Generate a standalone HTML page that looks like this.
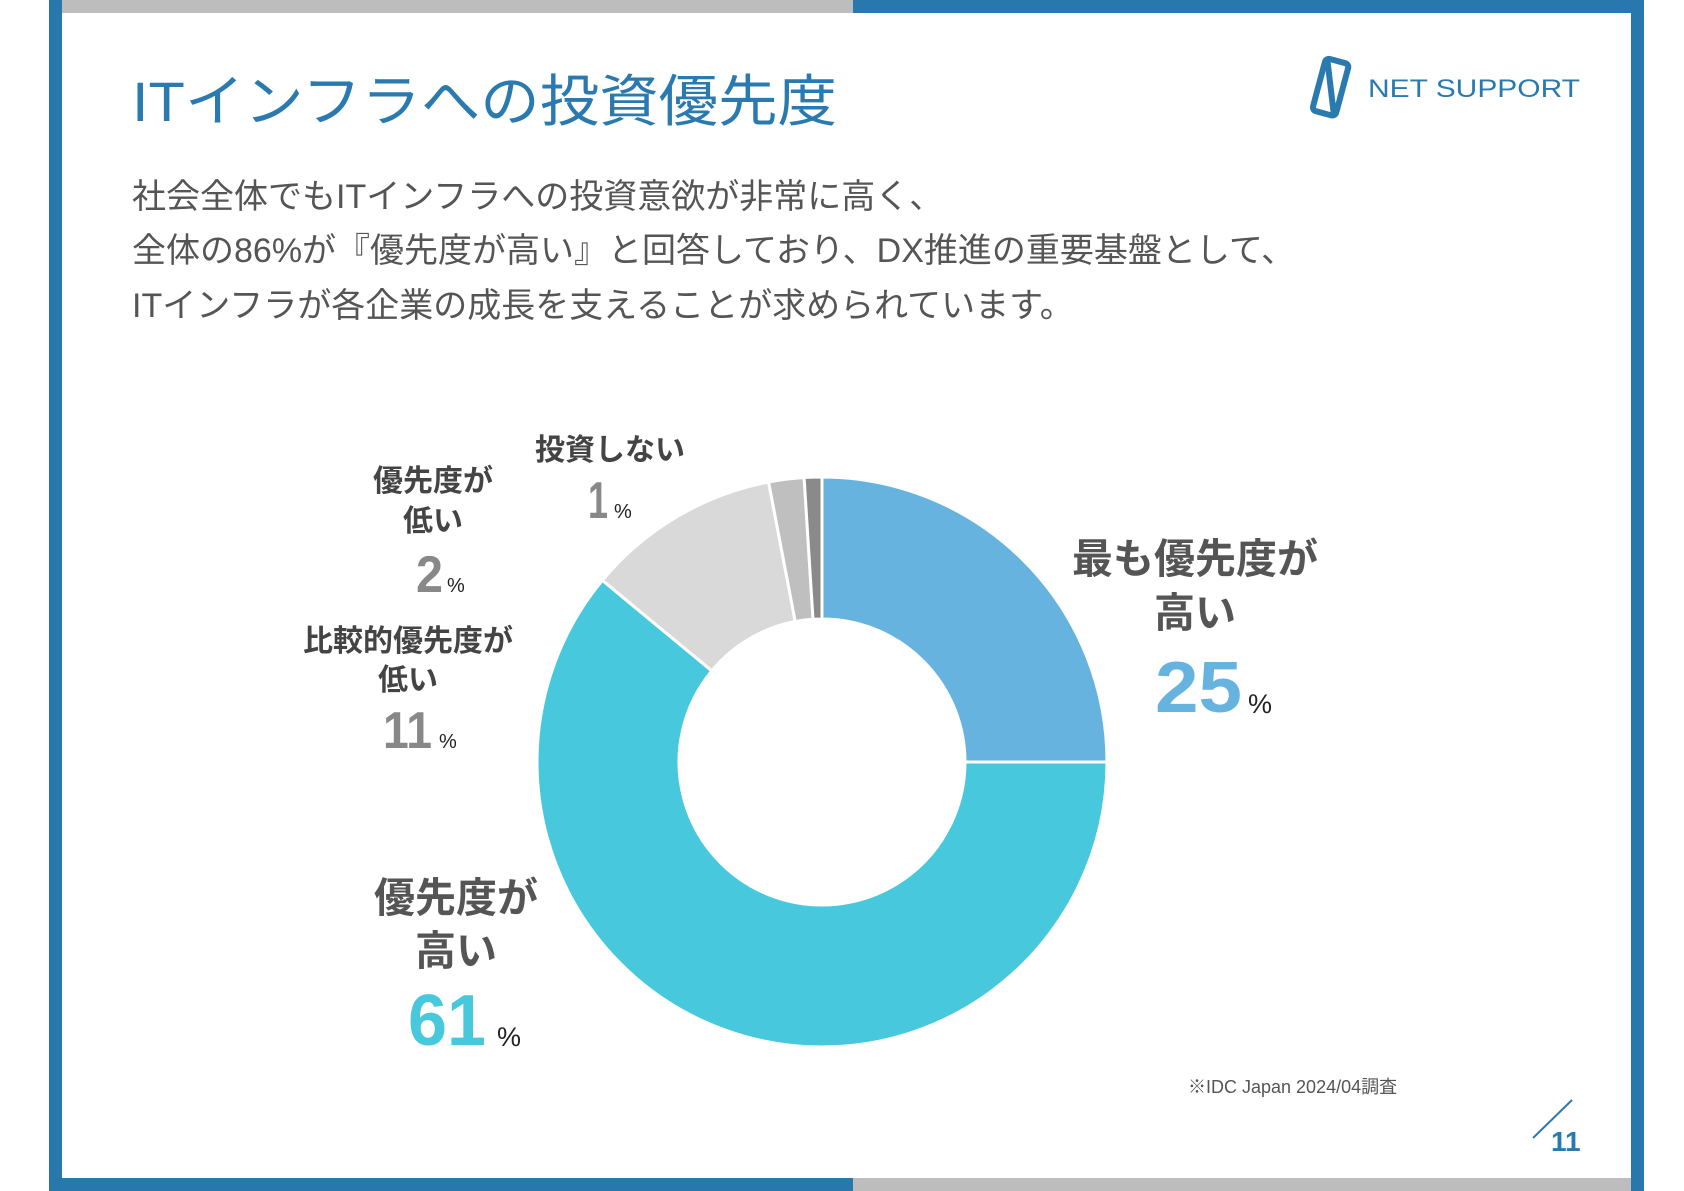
<!DOCTYPE html>
<html><head><meta charset="utf-8"><style>
html,body{margin:0;padding:0;background:#fff;}
svg{display:block;font-family:"Liberation Sans","Noto Sans CJK JP",sans-serif;}
</style></head><body>
<svg width="1684" height="1191" viewBox="0 0 1684 1191">
<rect x="49" y="0" width="13" height="1191" fill="#2878ae"/>
<rect x="1631" y="0" width="13" height="1191" fill="#2878ae"/>
<rect x="62" y="0" width="791" height="13" fill="#bdbdbd"/>
<rect x="853" y="0" width="778" height="13" fill="#2878ae"/>
<rect x="62" y="1178" width="791" height="13" fill="#2878ae"/>
<rect x="853" y="1178" width="778" height="13" fill="#bdbdbd"/>

<text x="132" y="121" font-size="56" fill="#2a7ab0" textLength="705" lengthAdjust="spacingAndGlyphs">ITインフラへの投資優先度</text>

<g>
<g transform="translate(1326,58) rotate(15)" fill="none" stroke="#2a7ab0" stroke-width="6">
<rect x="0" y="0" width="24" height="54" rx="4"/>
<line x1="2" y1="2" x2="22" y2="52"/>
</g>
<text x="1368" y="97" font-size="25" fill="#2a7ab0" textLength="212" lengthAdjust="spacingAndGlyphs">NET SUPPORT</text>
</g>

<g font-size="34" fill="#555">
<text x="132" y="208">社会全体でもITインフラへの投資意欲が非常に高く、</text>
<text x="132" y="262">全体の86%が『優先度が高い』と回答しており、DX推進の重要基盤として、</text>
<text x="132" y="317">ITインフラが各企業の成長を支えることが求められています。</text>
</g>

<g id="donut"></g>

<g font-weight="bold" text-anchor="middle">
<g fill="#555" font-size="41">
<text x="1195" y="573">最も優先度が</text>
<text x="1195" y="627">高い</text>
<text x="456" y="912">優先度が</text>
<text x="456" y="965">高い</text>
</g>
<g fill="#444" font-size="30">
<text x="408" y="651">比較的優先度が</text>
<text x="408" y="690">低い</text>
<text x="433" y="491">優先度が</text>
<text x="433" y="531">低い</text>
<text x="610" y="460">投資しない</text>
</g>
</g>
<g font-weight="bold">
<text x="1155" y="712" font-size="72" fill="#67b3df" textLength="87" lengthAdjust="spacingAndGlyphs">25</text>
<text x="408" y="1045" font-size="72" fill="#48c8dc" textLength="78" lengthAdjust="spacingAndGlyphs">61</text>
<text x="383" y="748" font-size="52" fill="#888" textLength="49" lengthAdjust="spacingAndGlyphs">11</text>
<text x="416" y="592" font-size="52" fill="#888" textLength="27" lengthAdjust="spacingAndGlyphs">2</text>
<text x="588" y="518" font-size="52" fill="#888" textLength="20" lengthAdjust="spacingAndGlyphs">1</text>
</g>
<g font-size="27" fill="#222">
<text x="1248" y="713">%</text>
<text x="497" y="1046">%</text>
<text x="439" y="748" font-size="20">%</text>
<text x="447" y="592" font-size="20">%</text>
<text x="614" y="518" font-size="20">%</text>
</g>

<text x="1188" y="1093" font-size="18" fill="#555">※IDC Japan 2024/04調査</text>
<line x1="1533" y1="1138" x2="1572" y2="1100" stroke="#2a7ab0" stroke-width="2"/>
<text x="1551" y="1151" font-size="28" font-weight="bold" fill="#2a7ab0">11</text>
</svg>
<script>
const categories = ["最も優先度が高い","優先度が高い","比較的優先度が低い","優先度が低い","投資しない"];
const values = [25, 61, 11, 2, 1];
const colors = ["#67b3df","#48c8dc","#d9d9d9","#bfbfbf","#8a8a8a"];
const cx = 822, cy = 762, R = 285, r = 143;
const g = document.getElementById('donut');
const total = values.reduce((a,b)=>a+b,0);
function pt(rad, a){ return [cx + rad*Math.sin(a), cy - rad*Math.cos(a)]; }
let acc = 0;
values.forEach((v,i)=>{
  const a0 = acc/total*2*Math.PI; acc += v; const a1 = acc/total*2*Math.PI;
  const large = (a1-a0) > Math.PI ? 1 : 0;
  const p0 = pt(R,a0), p1 = pt(R,a1), q1 = pt(r,a1), q0 = pt(r,a0);
  const d = `M${p0[0]},${p0[1]} A${R},${R} 0 ${large} 1 ${p1[0]},${p1[1]} L${q1[0]},${q1[1]} A${r},${r} 0 ${large} 0 ${q0[0]},${q0[1]} Z`;
  const path = document.createElementNS('http://www.w3.org/2000/svg','path');
  path.setAttribute('d', d);
  path.setAttribute('fill', colors[i]);
  path.setAttribute('stroke', '#fff');
  path.setAttribute('stroke-width', '3');
  
  
  g.appendChild(path);
});
</script>
</body></html>
